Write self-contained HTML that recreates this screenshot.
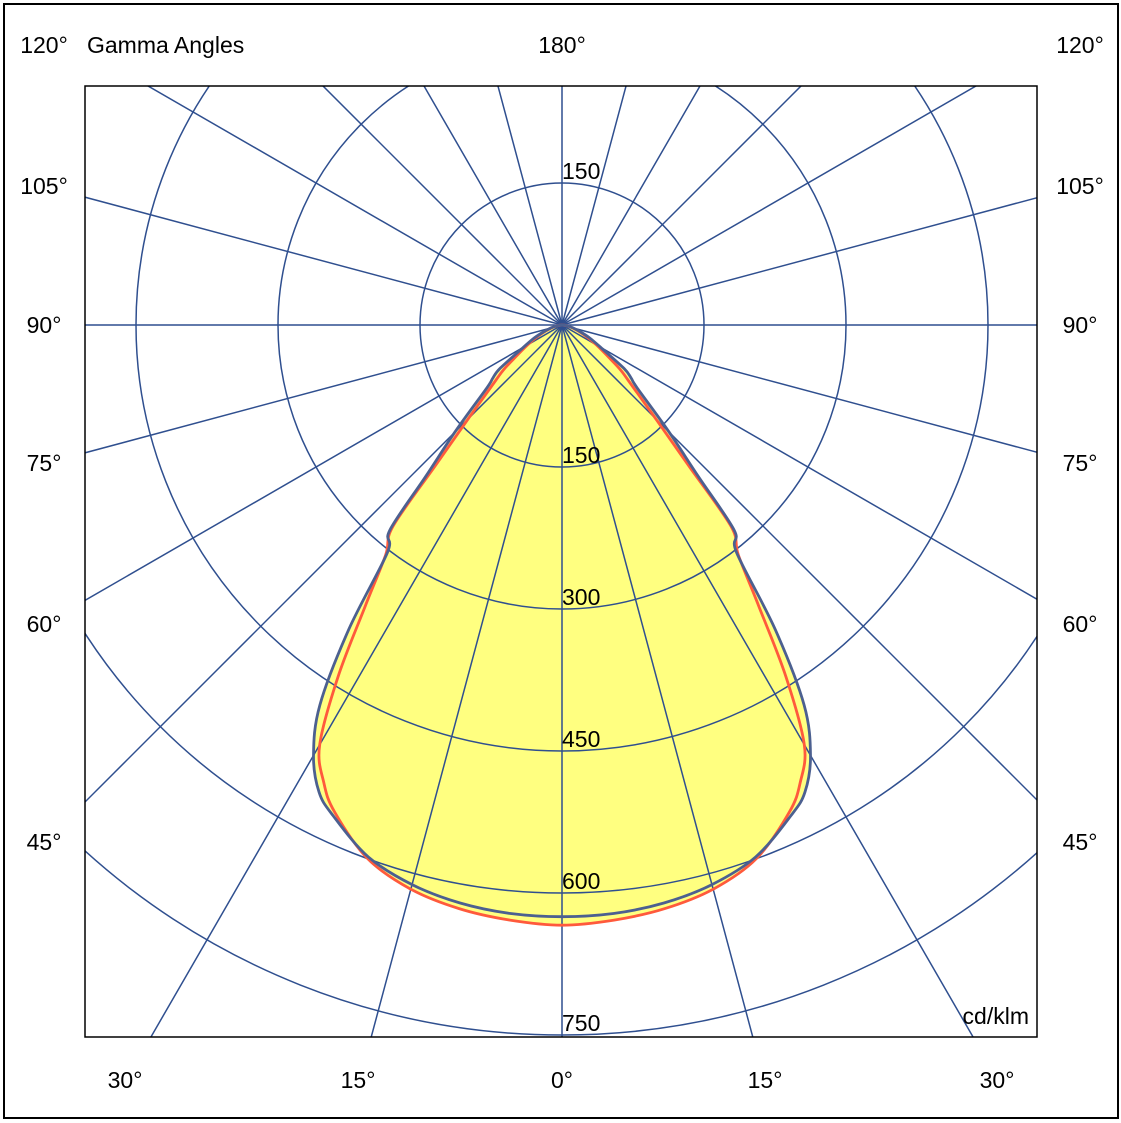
<!DOCTYPE html>
<html><head><meta charset="utf-8"><style>
html,body{margin:0;padding:0;background:#fff;width:1121px;height:1123px;overflow:hidden;}
svg{display:block;font-family:"Liberation Sans",sans-serif;}
</style></head><body>
<svg id="chart" width="1121" height="1123" viewBox="0 0 1121 1123" xmlns="http://www.w3.org/2000/svg">
<rect x="4" y="4" width="1114" height="1114" fill="#fff" stroke="#000" stroke-width="2"/>
<defs><clipPath id="plotclip"><rect x="85" y="86" width="952" height="951"/></clipPath></defs>
<g id="fills" clip-path="url(#plotclip)"></g>
<g id="grid" clip-path="url(#plotclip)"></g>
<g id="curves" clip-path="url(#plotclip)"></g>
<rect x="85" y="86" width="952" height="951" fill="none" stroke="#000" stroke-width="1.5"/>
<g id="labels" font-size="23" fill="#000"></g>
</svg>
<script>
const gammaAngles = [0,5,10,15,20,25,27.5,30,32.5,35,37.5,40,42,45,50,52.5,55,60,65,70,75,80,85,90];
const seriesC0 = [625,624,620,612,598,572,556,525,476,393,303,283,215,160,104,92,80,47,32,20,12,6,2,0];
const seriesC90 = [634,631,626,617,600,568,545,512,440,362,306,278,200,140,92,78,62,42,28,18,11,6,2,0];
const ringValues = [150,300,450,600,750];
const ringLabels = ["150","300","450","600","750"];
const leftAngleLabels = ["120°","105°","90°","75°","60°","45°"];
const leftAngleY = [45,186,325,463,624,842];
const bottomAngleLabels = ["30°","15°","0°","15°","30°"];
const bottomAngleX = [125,358,562,765,997];

const cx=562, cy=325, k=710/750;
const NS="http://www.w3.org/2000/svg";
function rad(v){return v*k;}
function pt(g,v,side){const a=g*Math.PI/180;return [cx+side*rad(v)*Math.sin(a), cy+rad(v)*Math.cos(a)];}
function mk(tag,attrs,parent){const e=document.createElementNS(NS,tag);for(const a in attrs)e.setAttribute(a,attrs[a]);parent.appendChild(e);return e;}
function pathFor(vals){
  const pts=[];
  for(let i=gammaAngles.length-1;i>=0;i--)pts.push(pt(gammaAngles[i],vals[i],-1));
  for(let i=1;i<gammaAngles.length;i++)pts.push(pt(gammaAngles[i],vals[i],1));
  const n=pts.length;
  let d="M"+pts[0][0].toFixed(1)+","+pts[0][1].toFixed(1);
  for(let i=0;i<n-1;i++){
    const p0=pts[Math.max(0,i-1)],p1=pts[i],p2=pts[i+1],p3=pts[Math.min(n-1,i+2)];
    const c1=[p1[0]+(p2[0]-p0[0])/6,p1[1]+(p2[1]-p0[1])/6];
    const c2=[p2[0]-(p3[0]-p1[0])/6,p2[1]-(p3[1]-p1[1])/6];
    d+="C"+c1[0].toFixed(1)+","+c1[1].toFixed(1)+" "+c2[0].toFixed(1)+","+c2[1].toFixed(1)+" "+p2[0].toFixed(1)+","+p2[1].toFixed(1);
  }
  return d+"Z";
}
const fills=document.getElementById('fills'), grid=document.getElementById('grid'), curves=document.getElementById('curves'), labels=document.getElementById('labels');
let f1=mk('path',{d:pathFor(seriesC90),fill:'#ffff80',stroke:'none'},fills);


let f2=mk('path',{d:pathFor(seriesC0),fill:'#ffff80',stroke:'none'},fills);


ringValues.forEach((v,i)=>{
  let c=mk('circle',{cx:cx,cy:cy,r:rad(v),fill:'none',stroke:'#2f4f8f','stroke-width':1.5},grid);
  
  
});
for(let a=0;a<360;a+=15){
  const t=a*Math.PI/180;
  let l=mk('line',{x1:cx,y1:cy,x2:cx+1200*Math.sin(t),y2:cy+1200*Math.cos(t),stroke:'#2f4f8f','stroke-width':1.5},grid);
  
  
}
let r1=mk('path',{d:pathFor(seriesC90),fill:'none',stroke:'#ff5a3c','stroke-width':2.8,'stroke-linejoin':'round'},curves);


let b1=mk('path',{d:pathFor(seriesC0),fill:'none',stroke:'#4c6090','stroke-width':2.8,'stroke-linejoin':'round'},curves);


function txt(s,x,y,anchor,name){
  let t=mk('text',{x:x,y:y,'text-anchor':anchor,'dominant-baseline':'central'},labels);
  t.textContent=s;
  
  
  return t;
}
ringValues.forEach((v,i)=>{
  let t=mk('text',{x:cx,y:cy+rad(v)-4},labels);
  t.textContent=ringLabels[i];
  
  
});
let tt=mk('text',{x:cx,y:cy-rad(150)-4},labels);
tt.textContent=ringLabels[0];


leftAngleLabels.forEach((s,i)=>{
  txt(s,44,leftAngleY[i],'middle','left-angle-label');
  txt(s,1080,leftAngleY[i],'middle','right-angle-label');
});
bottomAngleLabels.forEach((s,i)=>txt(s,bottomAngleX[i],1080,'middle','bottom-angle-label'));
txt('180°',562,45,'middle','top-angle-label');
txt('Gamma Angles',87,45,'start','chart-title');
txt('cd/klm',1029,1016,'end','unit-label');
</script>
</body></html>
